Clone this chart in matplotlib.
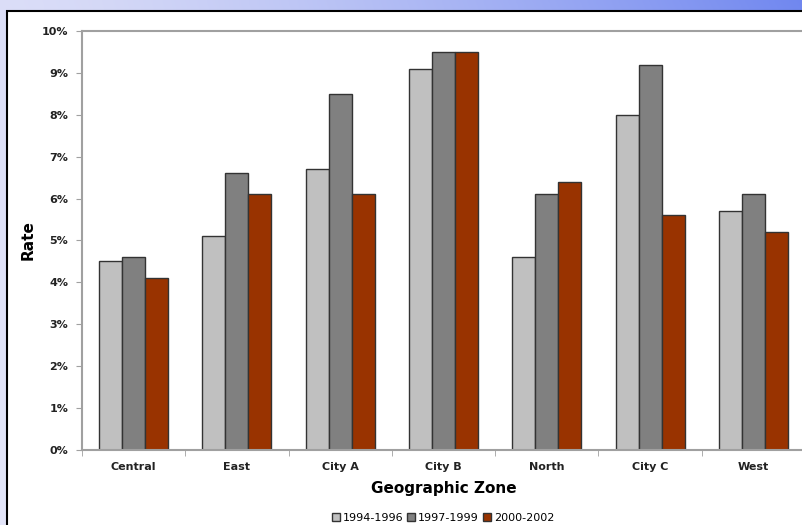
import matplotlib
matplotlib.use("Agg")
import matplotlib.pyplot as plt
import numpy as np
from matplotlib.patches import Rectangle
from matplotlib.ticker import FuncFormatter

zones = ["Central", "East", "City A", "City B", "North", "City C", "West"]
periods = ["1994-1996", "1997-1999", "2000-2002"]
rate_9496 = [4.5, 5.1, 6.7, 9.1, 4.6, 8.0, 5.7]
rate_9799 = [4.6, 6.6, 8.5, 9.5, 6.1, 9.2, 6.1]
rate_0002 = [4.1, 6.1, 6.1, 9.5, 6.4, 5.6, 5.2]
colors = ["#C0C0C0", "#808080", "#993300"]


def plot():
    fig = plt.figure(figsize=(8.03, 5.25), dpi=100)

    # slide background: blue gradient, darker to the right
    bg = fig.add_axes([0, 0, 1, 1], zorder=-10)
    xs = np.linspace(0, 1, 400)
    ys = np.linspace(0, 1, 200)
    X, Y = np.meshgrid(xs, ys)
    left = np.array([0.86, 0.87, 0.97])
    right = np.array([0.44, 0.53, 0.94])
    t = (X ** 1.3)[..., None]
    img = left * (1 - t) + right * t
    light = (0.35 * Y)[..., None]
    img = img * (1 - light) + light * np.array([0.95, 0.96, 0.99])
    bg.imshow(img[::-1], extent=[0, 1, 0, 1], aspect="auto", origin="lower")
    bg.add_patch(Rectangle((7 / 803, -0.01), 1.0, 1 - 11 / 525 + 0.01,
                           facecolor="white", edgecolor="black", linewidth=1.5))
    bg.set_xlim(0, 1)
    bg.set_ylim(0, 1)
    bg.axis("off")

    ax = fig.add_axes([82 / 803, 1 - 450 / 525, 723 / 803, 419 / 525])
    ax.set_facecolor("none")

    x = np.arange(len(zones))
    w = 0.223
    series = [rate_9496, rate_9799, rate_0002]
    for i, (vals, lab) in enumerate(zip(series, periods)):
        ax.bar(x + (i - 1) * w, vals, width=w, color=colors[i], edgecolor="#333333",
               linewidth=1.0, label=lab)

    ax.set_xlim(-0.5, len(zones) - 0.5)
    ax.set_ylim(0, 10)
    ax.set_yticks(np.arange(0, 11, 1))
    ax.yaxis.set_major_formatter(FuncFormatter(lambda v, p: f"{v:.0f}%"))
    ax.set_xticks(x)
    ax.set_xticklabels(zones)
    ax.set_xticks(np.arange(-0.5, len(zones), 1), minor=True)
    ax.tick_params(axis="x", which="major", length=0, pad=9)
    ax.tick_params(axis="x", which="minor", length=4, color="#A0A0A0")
    ax.tick_params(axis="y", length=4, color="#A0A0A0", pad=6)
    for lbl in ax.get_xticklabels() + ax.get_yticklabels():
        lbl.set_fontsize(8)
        lbl.set_fontweight("bold")
        lbl.set_color("#222222")

    for side in ["left", "bottom", "top"]:
        ax.spines[side].set_color("#A0A0A0")
        ax.spines[side].set_linewidth(1.5)
    ax.spines["right"].set_visible(False)

    ax.set_ylabel("Rate", fontsize=11, fontweight="bold")
    ax.yaxis.set_label_coords(-46 / 723, 0.5)
    ax.set_xlabel("Geographic Zone", fontsize=11, fontweight="bold", labelpad=6)

    ax.legend(loc="upper center", bbox_to_anchor=(361 / 723, -0.145), ncol=3,
              frameon=False, fontsize=8, handlelength=0.7, handleheight=0.7,
              handletextpad=0.25, columnspacing=0.4, borderaxespad=0,
              borderpad=0.2)

    fig.savefig("out.png", dpi=100)


if __name__ == "__main__":
    plot()
